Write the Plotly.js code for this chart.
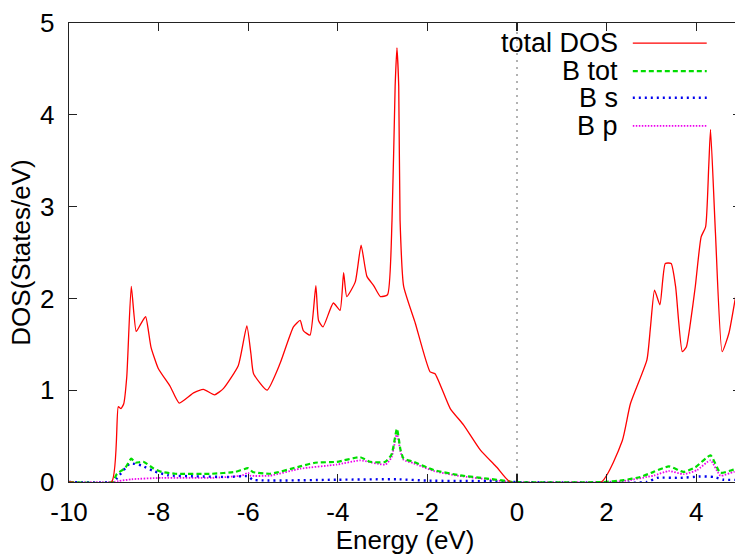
<!DOCTYPE html>
<html>
<head>
<meta charset="utf-8">
<script src="https://cdn.plot.ly/plotly-3.0.1.min.js"></script>
<style>
html, body { margin: 0; padding: 0; overflow: hidden; background: #fff; }
#chart { width: 760px; height: 555px; }
</style>
</head>
<body>
<div id="chart"></div>
<script>
// ---- data ----
var seriesNames = ["total DOS", "B tot", "B s", "B p"];
var xTickVals = [-10, -8, -6, -4, -2, 0, 2, 4];
var xTickText = ["-10", "-8", "-6", "-4", "-2", "0", "2", "4"];
var yTickVals = [0, 1, 2, 3, 4, 5];
var yTickText = ["0", "1", "2", "3", "4", "5"];

var totalE = [-10, -9.05, -8.90, -8.84, -8.78, -8.71, -8.61, -8.50, -8.40, -8.29, -8.17, -8.01,
  -7.74, -7.54, -7.22, -7.00, -6.75, -6.55, -6.22, -6.03, -5.94, -5.88, -5.58, -5.29, -4.99,
  -4.84, -4.77, -4.62, -4.49, -4.43, -4.33, -4.10, -3.95, -3.87, -3.80, -3.61, -3.48, -3.35,
  -3.20, -3.05, -2.89, -2.79, -2.72, -2.68, -2.64, -2.61, -2.53, -2.27, -1.94, -1.83, -1.49,
  -1.19, -0.82, -0.45, -0.15, 1.88, 2.35, 2.53, 2.90, 2.98, 3.07, 3.19, 3.31, 3.44, 3.54, 3.69,
  3.78, 3.87, 3.98, 4.11, 4.21, 4.28, 4.32, 4.43, 4.58, 4.73, 4.88, 5.0];
var totalDOS = [0, 0, 0.82, 0.80, 0.85, 1.15, 2.13, 1.64, 1.72, 1.80, 1.47, 1.24,
  1.04, 0.86, 0.97, 1.01, 0.95, 1.02, 1.27, 1.70, 1.40, 1.18, 1.00, 1.29, 1.69,
  1.76, 1.65, 1.60, 2.14, 1.76, 1.69, 1.95, 1.87, 2.28, 2.02, 2.18, 2.58, 2.24,
  2.14, 2.02, 2.04, 2.85, 4.31, 4.73, 4.31, 2.85, 2.13, 1.73, 1.20, 1.18, 0.80,
  0.62, 0.35, 0.16, 0, 0, 0.45, 0.85, 1.33, 1.69, 2.09, 1.93, 2.38, 2.38, 2.13, 1.42,
  1.47, 1.73, 2.13, 2.67, 2.78, 3.44, 3.84, 2.71, 1.42, 1.62, 2.02, 2.35];

var bTotE = [-10, -9.03, -8.93, -8.75, -8.61, -8.52, -8.34, -8.12, -7.93, -7.63, -6.81, -6.29,
  -6.00, -5.90, -5.51, -4.84, -4.51, -4.02, -3.50, -3.28, -2.94, -2.80, -2.68, -2.60, -2.53,
  -2.31, -1.86, -1.27, -0.67, -0.22, -0.10, 1.93, 2.38, 2.75, 3.05, 3.39, 3.72, 3.98, 4.32,
  4.54, 4.84, 5.0];
var bTotDOS = [0, 0, 0.09, 0.15, 0.255, 0.21, 0.22, 0.15, 0.11, 0.09, 0.09, 0.11,
  0.15, 0.11, 0.09, 0.17, 0.21, 0.22, 0.27, 0.22, 0.22, 0.30, 0.58, 0.35, 0.255,
  0.22, 0.13, 0.073, 0.037, 0.01, 0, 0, 0.02, 0.055, 0.11, 0.17, 0.11, 0.16, 0.29,
  0.10, 0.135, 0.15];

var bsE = [-10, -9.03, -8.93, -8.64, -8.38, -8.12, -7.78, -7.18, -6.44, -6.00, -5.90, -4.00,
  -2.68, -2.00, -0.50, -0.10, 2.90, 3.13, 3.65, 4.09, 4.39, 4.61, 5.0];
var bsDOS = [0, 0, 0.04, 0.20, 0.18, 0.12, 0.073, 0.062, 0.055, 0.062, 0.025, 0.025,
  0.03, 0.015, 0.008, 0, 0, 0.045, 0.045, 0.06, 0.055, 0.025, 0.025];

var bpE = [-10, -9.03, -8.90, -8.60, -7.93, -6.81, -6.14, -6.00, -5.95, -5.51, -4.84, -4.02,
  -3.50, -2.94, -2.80, -2.68, -2.60, -2.53, -2.31, -1.86, -1.27, -0.67, -0.22, -0.10, 1.93,
  2.38, 3.05, 3.39, 3.72, 4.02, 4.32, 4.54, 4.84, 5.0];
var bpDOS = [0, 0, 0.01, 0.03, 0.045, 0.045, 0.07, 0.10, 0.07, 0.07, 0.145, 0.19,
  0.235, 0.19, 0.27, 0.53, 0.33, 0.24, 0.205, 0.12, 0.065, 0.03, 0.005, 0, 0,
  0.01, 0.07, 0.12, 0.085, 0.13, 0.235, 0.07, 0.11, 0.12];

var fermiE = [0, 0];
var fermiDOS = [0, 5];

// ---- styles ----
var styles = [
  {color: "#ff0000", width: 1.3, dash: "solid"},
  {color: "#00dd00", width: 2.2, dash: "5px,3px"},
  {color: "#0000ee", width: 2.4, dash: "2px,4px"},
  {color: "#ee00ee", width: 1.8, dash: "1.5px,1.5px"}
];
var xs = [totalE, bTotE, bsE, bpE];
var ys = [totalDOS, bTotDOS, bsDOS, bpDOS];

var traces = [{
  x: fermiE, y: fermiDOS, mode: "lines", showlegend: false, hoverinfo: "skip",
  line: {color: "#999999", width: 1.5, dash: "2px,5px"}
}];
// draw in reverse so total DOS ends on top
for (var i = 3; i >= 0; i--) {
  traces.push({
    x: xs[i], y: ys[i], mode: "lines", name: seriesNames[i], showlegend: false,
    line: {color: styles[i].color, width: styles[i].width, dash: styles[i].dash,
           shape: "spline", smoothing: 0.5}
  });
}

var FONT = "Liberation Sans, Arial, Helvetica, sans-serif";
var legendY = [0.956, 0.895, 0.837, 0.776];
var annotations = [], shapes = [];
for (var k = 0; k < 4; k++) {
  annotations.push({
    xref: "paper", yref: "paper", x: 0.82, y: legendY[k], xanchor: "right", yanchor: "middle",
    text: seriesNames[k], showarrow: false, font: {family: FONT, size: 27, color: "#000"}
  });
  shapes.push({
    type: "line", xref: "paper", yref: "paper", x0: 0.839, x1: 0.949, y0: legendY[k], y1: legendY[k],
    line: {color: styles[k].color, width: styles[k].width, dash: styles[k].dash}
  });
}

var axisCommon = {
  showgrid: false, zeroline: false, showline: true, linecolor: "#222", linewidth: 1.3,
  ticks: "inside", ticklen: 8, tickwidth: 1.2, tickcolor: "#222", mirror: "ticks",
  tickfont: {family: FONT, size: 26, color: "#000"}
};

var layout = {
  width: 760, height: 555,
  margin: {l: 69, r: 19, t: 23, b: 73},
  paper_bgcolor: "#fff", plot_bgcolor: "#fff",
  showlegend: false,
  xaxis: Object.assign({}, axisCommon, {
    range: [-10, 5], tickmode: "array", tickvals: xTickVals, ticktext: xTickText, ticklabelstandoff: 6,
    title: {text: "Energy (eV)", font: {family: FONT, size: 26, color: "#000"}, standoff: 0}
  }),
  yaxis: Object.assign({}, axisCommon, {
    range: [0, 5], tickmode: "array", tickvals: yTickVals, ticktext: yTickText, ticklabelstandoff: 8,
    title: {text: "DOS(States/eV)", font: {family: FONT, size: 26, color: "#000"}, standoff: 2}
  }),
  annotations: annotations,
  shapes: shapes
};

Plotly.newPlot("chart", traces, layout, {staticPlot: true, displayModeBar: false});
</script>
</body>
</html>
